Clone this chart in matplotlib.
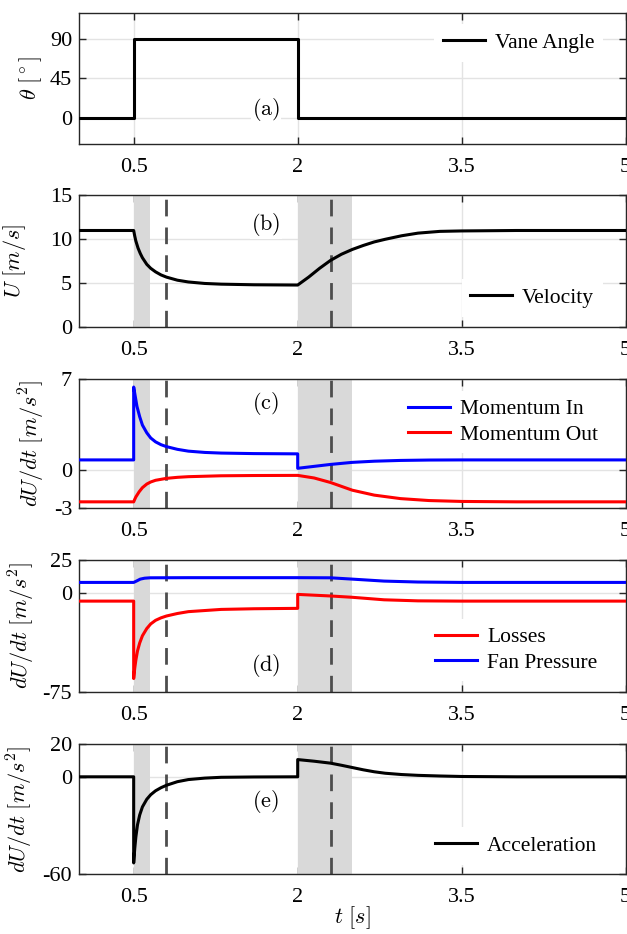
import matplotlib
matplotlib.use("Agg")
from matplotlib import pyplot as plt

plt.rcParams['font.family'] = 'serif'
plt.rcParams['font.serif'] = ['Liberation Serif', 'DejaVu Serif']
plt.rcParams['mathtext.fontset'] = 'cm'
plt.rcParams['axes.unicode_minus'] = False

## data ##

t_vane = [0, 0.5, 0.5, 2.0, 2.0, 5.0]
vane_angle = [0, 0, 90, 90, 0, 0]

t_vel = [0, 0.5, 0.51, 0.52, 0.54, 0.56, 0.58, 0.62, 0.656, 0.7, 0.75, 0.8, 0.9, 1.0, 1.15, 1.3,
         1.6, 2.0, 2.1, 2.2, 2.3, 2.4, 2.5, 2.6, 2.7, 2.8, 2.95, 3.1, 3.3, 3.5, 4.0, 5.0]
velocity = [11.0, 11.0, 10.35, 9.8, 9.0, 8.4, 7.9, 7.15, 6.7, 6.3, 5.95, 5.7, 5.35, 5.15, 4.98, 4.9,
            4.83, 4.8, 5.7, 6.7, 7.6, 8.3, 8.85, 9.3, 9.7, 10.0, 10.4, 10.7, 10.9, 10.95, 11.0, 11.0]

t_mom_in = [0, 0.5, 0.5, 0.51, 0.53, 0.555, 0.58, 0.62, 0.656, 0.7, 0.75, 0.8, 0.9, 1.0,
            1.15, 1.3, 1.6, 2.0, 2.0, 2.3, 2.5, 2.7, 2.94, 3.2, 3.5, 5.0]
mom_in = [0.75, 0.75, 6.4, 5.9, 4.9, 4.1, 3.45, 2.85, 2.45, 2.15, 1.93, 1.78, 1.57, 1.43,
          1.33, 1.28, 1.24, 1.22, 0.1, 0.4, 0.56, 0.65, 0.71, 0.74, 0.75, 0.75]

t_mom_out = [0, 0.5, 0.51, 0.52, 0.55, 0.58, 0.62, 0.656, 0.7, 0.8, 0.9, 1.0, 1.3, 1.6, 2.0,
             2.15, 2.3, 2.5, 2.7, 2.94, 3.2, 3.5, 4.0, 5.0]
mom_out = [-2.5, -2.5, -2.3, -2.12, -1.72, -1.4, -1.12, -0.96, -0.83, -0.68, -0.6, -0.55, -0.48, -0.46, -0.45,
           -0.65, -1.0, -1.6, -1.98, -2.25, -2.4, -2.47, -2.5, -2.5]

t_fan = [0, 0.5, 0.53, 0.56, 0.6, 0.65, 1.0, 2.0, 2.3, 2.5, 2.79, 3.1, 3.5, 5.0]
fan_pressure = [8.0, 8.0, 9.2, 10.5, 11.2, 11.5, 11.6, 11.6, 11.5, 10.5, 9.0, 8.3, 8.0, 8.0]

t_loss = [0, 0.5, 0.5, 0.51, 0.52, 0.535, 0.555, 0.58, 0.62, 0.656, 0.7, 0.75, 0.8, 0.9, 1.0, 1.3,
          1.6, 2.0, 2.0, 2.3, 2.5, 2.79, 3.1, 3.5, 5.0]
losses = [-6.2, -6.2, -65, -57, -51, -44, -38, -32.5, -27, -23.5, -20.8, -18.9, -17.5, -15.6, -14.2, -12.5,
          -12.0, -11.7, -1.1, -2.3, -3.3, -5.2, -6.0, -6.2, -6.2]

t_acc = [0, 0.5, 0.5, 0.51, 0.52, 0.535, 0.555, 0.58, 0.62, 0.656, 0.7, 0.75, 0.8, 0.9, 1.0, 1.15,
         1.3, 1.6, 2.0, 2.0, 2.15, 2.3, 2.4, 2.5, 2.6, 2.7, 2.8, 2.95, 3.1, 3.3, 3.5, 4.0, 5.0]
acceleration = [0, 0, -53, -44, -37, -29.5, -23.5, -18.5, -13.8, -11.0, -8.6, -6.7, -5.2, -3.0, -1.7, -0.8,
                -0.3, -0.1, 0, 10.6, 9.6, 8.4, 7.1, 5.7, 4.3, 3.1, 2.2, 1.4, 0.9, 0.5, 0.2, 0, 0]

shade_spans = [(0.5, 0.65), (2.0, 2.5)]
dashed_times = [0.8, 2.3]
x_ticks = [0.5, 2, 3.5, 5]

y_limits = [(-30, 120), (0, 15), (-3, 7), (-75, 25), (-60, 20)]
y_ticks = [[0, 45, 90], [0, 5, 10, 15], [-3, 0, 7], [-75, 0, 25], [-60, 0, 20]]
y_labels = [r'$\theta\ [^\circ]$', r'$U\ [m/s]$', r'$dU/dt\ [m/s^2]$',
            r'$dU/dt\ [m/s^2]$', r'$dU/dt\ [m/s^2]$']
panel_tags = ['(a)', '(b)', '(c)', '(d)', '(e)']

## layout (figure fractions) ##
ax_left, ax_width = 0.126, 0.872
ax_rows = [(0.8458, 0.1406), (0.6496, 0.1413), (0.4558, 0.1381),
           (0.2594, 0.1410), (0.0639, 0.1392)]
label_x = [-0.064, -0.093, -0.059, -0.077, -0.080]
tag_y = [0.26, 0.78, 0.81, 0.20, 0.56]
legend_pos = [(0.650, 0.77), (0.700, 0.222), (0.586, 0.669), (0.636, 0.317), (0.636, 0.218)]

fig = plt.figure(figsize=(6.27, 9.34), dpi=100)
axes = []
for i, (b, h) in enumerate(ax_rows):
    ax = fig.add_axes([ax_left, b, ax_width, h])
    axes.append(ax)
    ax.set_xlim(0, 5)
    ax.set_ylim(*y_limits[i])
    ax.set_xticks(x_ticks)
    ax.set_xticklabels(['0.5', '2', '3.5', '5'])
    ax.set_yticks(y_ticks[i])
    ax.set_yticklabels([str(v) for v in y_ticks[i]])
    ax.tick_params(direction='in', length=5, width=1, top=True, right=True,
                   labelsize=16, pad=5, color='#262626')
    ax.tick_params(axis='x', pad=10)
    ax.grid(True, color='#e3e3e3', linewidth=1)
    ax.set_axisbelow(True)
    for s in ax.spines.values():
        s.set_color('#262626')
        s.set_linewidth(1)
    ax.set_ylabel(y_labels[i], fontsize=16)
    ax.yaxis.set_label_coords(label_x[i], 0.5)
    if i > 0:
        for a, b2 in shade_spans:
            ax.axvspan(a, b2, color='#d9d9d9', lw=0, zorder=1)
        for td in dashed_times:
            ax.axvline(td, color='#4d4d4d', lw=2, dashes=(6, 4), zorder=2)
    ax.text(1.71, y_limits[i][0] + tag_y[i] * (y_limits[i][1] - y_limits[i][0]),
            r'$\mathrm{' + panel_tags[i] + '}$', fontsize=16, ha='center', va='center',
            zorder=3, bbox=dict(facecolor='white', edgecolor='none', pad=1))

lw = 2.2
axes[0].plot(t_vane, vane_angle, color='black', lw=lw, label='Vane Angle', zorder=4)
axes[1].plot(t_vel, velocity, color='black', lw=lw, label='Velocity', zorder=4)
axes[2].plot(t_mom_in, mom_in, color='blue', lw=lw, label='Momentum In', zorder=4)
axes[2].plot(t_mom_out, mom_out, color='red', lw=lw, label='Momentum Out', zorder=4)
axes[3].plot(t_loss, losses, color='red', lw=lw, label='Losses', zorder=4)
axes[3].plot(t_fan, fan_pressure, color='blue', lw=lw, label='Fan Pressure', zorder=4)
axes[4].plot(t_acc, acceleration, color='black', lw=lw, label='Acceleration', zorder=4)

for i, ax in enumerate(axes):
    leg = ax.legend(loc='center left', bbox_to_anchor=legend_pos[i], fontsize=15.5,
                    frameon=True, fancybox=False, edgecolor='none', framealpha=1,
                    borderpad=0.4, borderaxespad=0, handlelength=1.95,
                    handletextpad=0.45, labelspacing=0.25)
    leg.set_zorder(5)

axes[4].set_xlabel(r'$t\ [s]$', fontsize=16, labelpad=-2)

fig.savefig('out.png', dpi=100)
